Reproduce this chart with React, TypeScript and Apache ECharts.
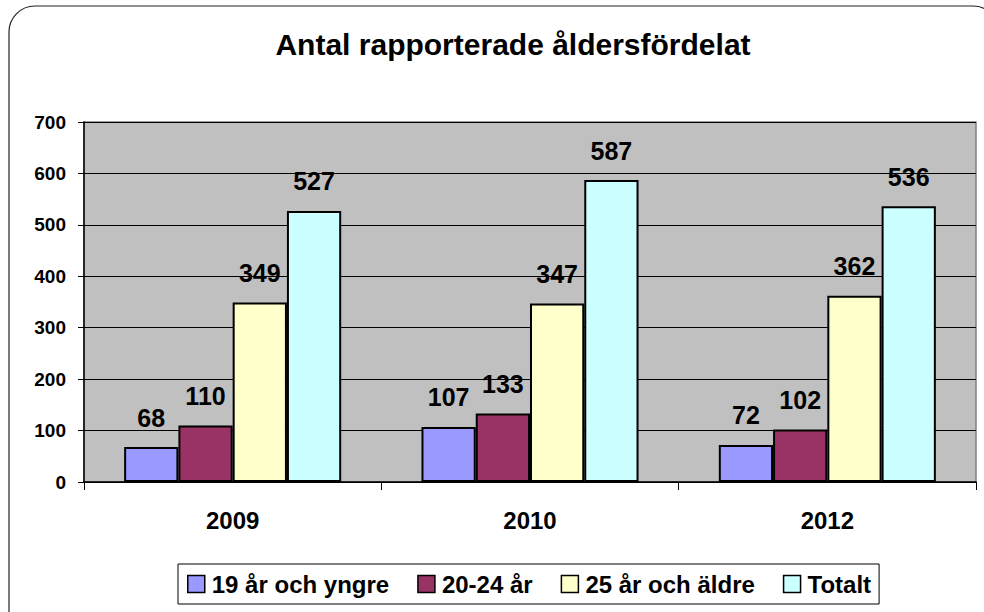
import React, { useEffect, useRef } from "react";
import * as echarts from "echarts";

const categories = ["2009", "2010", "2012"];
const seriesNames = ["19 år och yngre", "20-24 år", "25 år och äldre", "Totalt"];
const young = [68, 107, 72];
const mid = [110, 133, 102];
const older = [349, 347, 362];
const total = [527, 587, 536];
const colors = ["#9999FF", "#993366", "#FFFFCC", "#CCFFFF"];
const yTicks = { min: 0, max: 700, interval: 100 };

export default function App() {
  const ref = useRef<HTMLDivElement>(null);
  useEffect(() => {
    if (!ref.current) return;
    const chart = echarts.init(ref.current, null, { renderer: "svg" });
    const font = "'Liberation Sans', Arial, sans-serif";
    const values = [young, mid, older, total];
    chart.setOption({
      animation: false,
      backgroundColor: "#ffffff",
      textStyle: { fontFamily: font },
      title: {
        text: "Antal rapporterade åldersfördelat",
        left: 508,
        top: 24,
        textAlign: "center",
        textStyle: { fontFamily: font, fontSize: 30, fontWeight: "bold", color: "#000" },
      },
      graphic: [
        {
          type: "rect",
          shape: { x: 9, y: 6, width: 990, height: 640, r: 26 },
          style: { fill: "none", stroke: "#222", lineWidth: 1.2 },
          z: 100,
          silent: true,
        },
      ],
      legend: {
        bottom: 8,
        left: 178,
        itemWidth: 17,
        itemHeight: 17,
        itemGap: 28,
        icon: "rect",
        borderColor: "#000",
        borderWidth: 1,
        padding: [8, 8, 8, 9],
        itemStyle: { borderColor: "#000", borderWidth: 1.5 },
        textStyle: { fontFamily: font, fontSize: 24, fontWeight: "bold", color: "#000", padding: [0, 0, 0, 2] },
        data: seriesNames,
      },
      grid: {
        left: 84,
        right: 8,
        top: 122,
        bottom: 130,
        show: true,
        backgroundColor: "#C0C0C0",
        borderColor: "#808080",
        borderWidth: 1.5,
      },
      xAxis: {
        type: "category",
        data: categories,
        axisLine: { lineStyle: { color: "#000", width: 1.5 } },
        axisTick: { show: true, length: 8, lineStyle: { color: "#000" } },
        axisLabel: { margin: 26, fontFamily: font, fontSize: 24, fontWeight: "bold", color: "#000" },
      },
      yAxis: {
        type: "value",
        min: yTicks.min,
        max: yTicks.max,
        interval: yTicks.interval,
        axisLine: { show: true, lineStyle: { color: "#000", width: 1.5 } },
        axisTick: { show: true, length: 6, lineStyle: { color: "#000" } },
        axisLabel: { margin: 18, fontFamily: font, fontSize: 19, fontWeight: "bold", color: "#000" },
        splitLine: { lineStyle: { color: "#000", width: 1 } },
      },
      series: seriesNames.map((name, i) => ({
        name,
        type: "bar",
        data: values[i],
        barGap: "0%",
        barCategoryGap: "27%",
        itemStyle: { color: colors[i], borderColor: "#000", borderWidth: 2 },
        label: {
          show: true,
          position: "top",
          distance: 17,
          fontFamily: font,
          fontSize: 25,
          fontWeight: "bold",
          color: "#000",
        },
      })),
    });
    return () => chart.dispose();
  }, []);
  return <div ref={ref} style={{ width: 984, height: 612, position: "absolute", left: 0, top: 0 }} />;
}
